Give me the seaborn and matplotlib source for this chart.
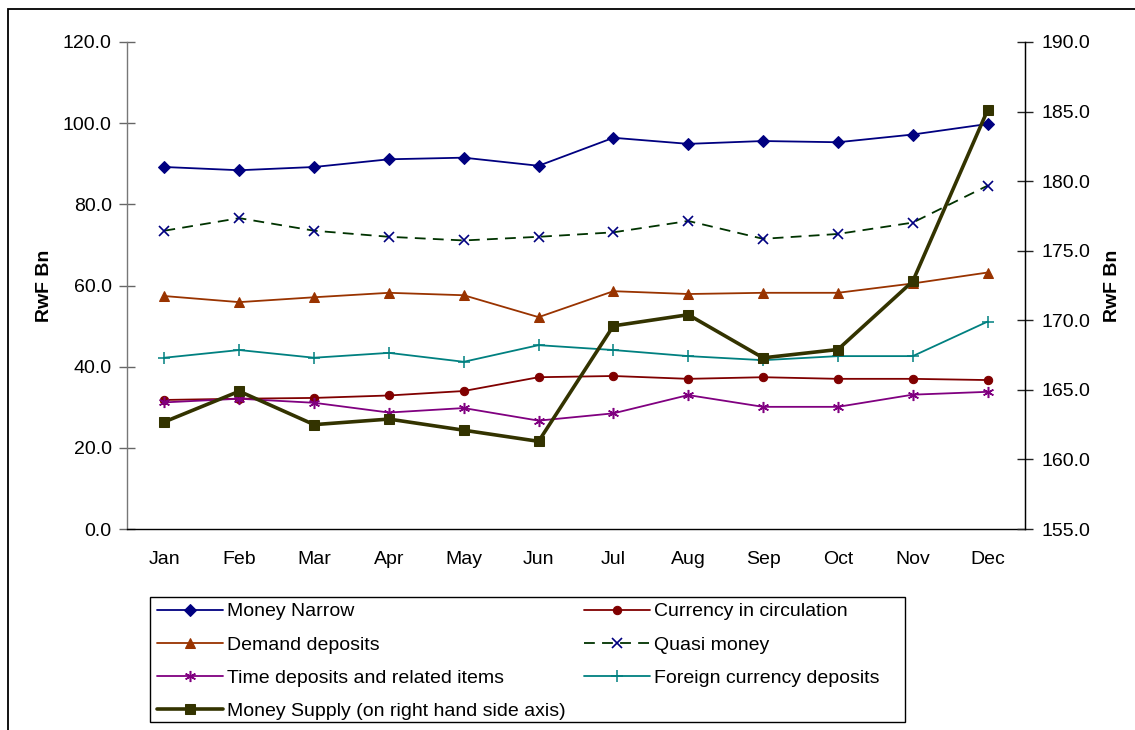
import numpy as np
import pandas as pd
import matplotlib
matplotlib.use("Agg")
import matplotlib.pyplot as plt
from matplotlib.patches import Rectangle
from matplotlib.ticker import FixedLocator, FormatStrFormatter
import seaborn as sns

months = ["Jan", "Feb", "Mar", "Apr", "May", "Jun",
          "Jul", "Aug", "Sep", "Oct", "Nov", "Dec"]

money_narrow = [89.2, 88.4, 89.2, 91.1, 91.5, 89.5, 96.4, 94.9, 95.6, 95.3, 97.2, 99.8]
currency_circulation = [31.8, 32.1, 32.3, 32.9, 34.0, 37.4, 37.7, 37.0, 37.4, 37.0, 37.0, 36.7]
demand_deposits = [57.4, 55.9, 57.1, 58.2, 57.6, 52.2, 58.6, 57.9, 58.2, 58.2, 60.5, 63.2]
quasi_money = [73.5, 76.6, 73.5, 72.0, 71.1, 72.0, 73.1, 75.9, 71.5, 72.7, 75.5, 84.6]
time_deposits = [31.2, 32.1, 31.1, 28.7, 29.8, 26.7, 28.5, 33.0, 30.1, 30.1, 33.1, 33.8]
foreign_currency = [42.2, 44.1, 42.2, 43.4, 41.2, 45.3, 44.1, 42.6, 41.6, 42.6, 42.6, 51.1]
money_supply = [162.7, 164.9, 162.5, 162.9, 162.1, 161.3, 169.6, 170.4, 167.3, 167.9, 172.8, 185.1]

left_ticks = [0, 20, 40, 60, 80, 100, 120]
right_ticks = [155, 160, 165, 170, 175, 180, 185, 190]

sns.set_style("white")
plt.rcParams["font.family"] = ["Liberation Sans", "DejaVu Sans"]
plt.rcParams["font.size"] = 14
plt.rcParams["text.color"] = "black"
plt.rcParams["axes.labelcolor"] = "black"

FS = 14

df = pd.DataFrame({
    "pos": np.arange(len(months)),
    "Money Narrow": money_narrow,
    "Currency in circulation": currency_circulation,
    "Demand deposits": demand_deposits,
    "Quasi money": quasi_money,
    "Time deposits and related items": time_deposits,
    "Foreign currency deposits": foreign_currency,
    "Money Supply (on right hand side axis)": money_supply,
})

fig = plt.figure(figsize=(11.35, 7.3), dpi=100)
ax = fig.add_axes([127 / 1135, 1 - 529 / 730, (1025 - 127) / 1135, (529 - 42) / 730])
ax2 = ax.twinx()

styles = {
    "Money Narrow": dict(color="#000080", marker="D", markersize=6.5,
                         markeredgecolor="#000080", markerfacecolor="#000080"),
    "Currency in circulation": dict(color="#800000", marker="o", markersize=6,
                                    markeredgecolor="#800000", markerfacecolor="#800000"),
    "Demand deposits": dict(color="#993300", marker="^", markersize=7.5,
                            markeredgecolor="#993300", markerfacecolor="#993300"),
    "Quasi money": dict(color="#003300", marker="x", markersize=7, linestyle=(0, (6, 4)),
                        markeredgecolor="#000080", markeredgewidth=1.2),
    "Time deposits and related items": dict(color="#800080", marker=(6, 2, 0), markersize=8,
                                            markeredgecolor="#800080", markeredgewidth=1.1),
    "Foreign currency deposits": dict(color="#008080", marker="+", markersize=8,
                                      markeredgecolor="#008080", markeredgewidth=1.1),
}

for name, st in styles.items():
    sns.lineplot(data=df, x="pos", y=name, ax=ax, linewidth=1.3, label=name, **st)

sns.lineplot(data=df, x="pos", y="Money Supply (on right hand side axis)", ax=ax2,
             color="#333300", linewidth=2.6, marker="s", markersize=7,
             markeredgecolor="#333300", markerfacecolor="#333300",
             label="Money Supply (on right hand side axis)")

# Axis ranges and ticks
ax.set_xlim(-0.5, len(months) - 0.5)
ax.set_ylim(0, 120)
ax2.set_ylim(155, 190)
ax.set_xticks(np.arange(len(months)))
ax.set_xticklabels(months)
ax.xaxis.set_minor_locator(FixedLocator(np.arange(-0.5, len(months), 1.0)))
ax.tick_params(axis="x", which="major", length=0, pad=16, labelsize=FS, labelcolor="black")
ax.tick_params(axis="x", which="minor", direction="inout", length=13, width=1, color="#333333")
ax.set_yticks(left_ticks)
ax.yaxis.set_major_formatter(FormatStrFormatter("%.1f"))
ax.tick_params(axis="y", direction="inout", length=12, width=1, color="#666666",
               pad=5, labelsize=FS, labelcolor="black", left=True)
ax2.set_yticks(right_ticks)
ax2.yaxis.set_major_formatter(FormatStrFormatter("%.1f"))
ax2.tick_params(axis="y", direction="inout", length=12, width=1, color="#222222",
                pad=6, labelsize=FS, labelcolor="black", right=True)

ax.set_xlabel("")
ax.set_ylabel("RwF Bn", fontweight="bold", fontsize=FS, labelpad=7)
ax2.set_ylabel("RwF Bn", fontweight="bold", fontsize=FS, rotation=90, labelpad=10)

for a in (ax, ax2):
    a.spines["top"].set_visible(False)
    a.grid(False)
ax.spines["left"].set_color("#777777")
ax.spines["bottom"].set_color("#000000")
ax2.spines["right"].set_color("#000000")
ax2.spines["left"].set_visible(False)
ax2.spines["bottom"].set_visible(False)
for s in ("left", "bottom"):
    ax.spines[s].set_linewidth(1.0)
ax2.spines["right"].set_linewidth(1.0)

# Combined legend below the plot
h1, l1 = ax.get_legend_handles_labels()
h2, l2 = ax2.get_legend_handles_labels()
for a in (ax, ax2):
    if a.get_legend() is not None:
        a.get_legend().remove()
handles = dict(zip(l1 + l2, h1 + h2))
order = ["Money Narrow", "Demand deposits", "Time deposits and related items",
         "Money Supply (on right hand side axis)",
         "Currency in circulation", "Quasi money", "Foreign currency deposits"]
leg = fig.legend([handles[k] for k in order], order, ncol=2,
                 loc="upper left", bbox_to_anchor=(151 / 1135, 1 - 597 / 730),
                 borderaxespad=0, frameon=False, fontsize=FS, handlelength=3.4,
                 handletextpad=0.2, labelspacing=0.8, borderpad=0.3,
                 columnspacing=0.95)

# Legend box
fig.patches.append(Rectangle((150 / 1135, 1 - 722 / 730), 755 / 1135, 125 / 730,
                             transform=fig.transFigure, fill=False,
                             edgecolor="#000000", linewidth=1.0))

# Outer chart frame
fig.patches.append(Rectangle((8 / 1135, -0.2), 1.2, 1.2 - 9 / 730,
                             transform=fig.transFigure, fill=False,
                             edgecolor="#000000", linewidth=1.3))

fig.savefig("out.png", dpi=100)
